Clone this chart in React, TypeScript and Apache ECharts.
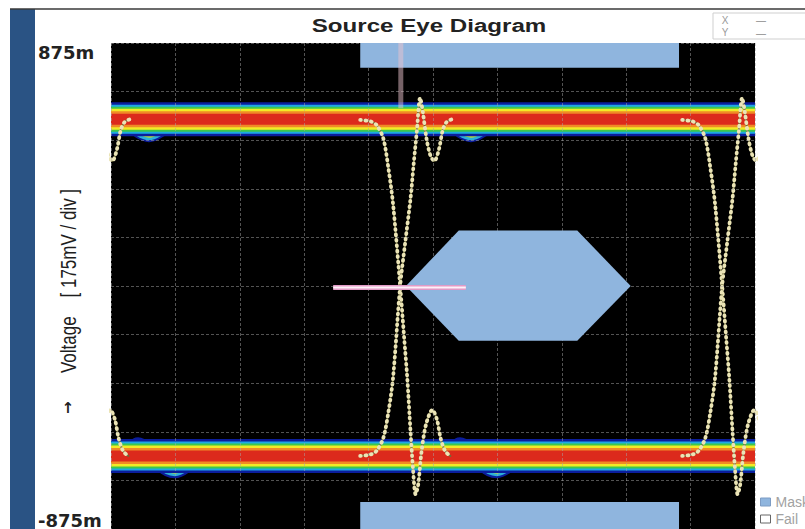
import React, { useEffect, useRef } from "react";
import * as echarts from "echarts";

// ---- axis values (mV, divisions) ----
const yMin = -875;
const yMax = 875;
const yStep = 175;
const xMin = 0;
const xMax = 10;
const yTickText: Record<string, string> = { "875": "875m", "-875": "-875m" };

// crossing points of the eye (in divisions)
const crossings = [-0.51, 4.49, 9.49];

// steady rails (div, mV)
const upperRail = [[0, 600], [10, 600]];
const lowerRail = [[0, -612], [10, -612]];

// transition traces relative to a crossing (d div, mV)
const fallTrace = [
  [-0.62, 598], [-0.45, 592], [-0.36, 578], [-0.26, 530], [-0.18, 420], [-0.11, 295],
  [0, 0], [0.06, -180], [0.11, -330], [0.16, -520], [0.2, -660], [0.24, -750],
  [0.28, -715], [0.33, -600], [0.4, -500], [0.5, -446], [0.57, -480], [0.63, -550],
  [0.7, -595], [0.78, -612],
];
const riseTrace = [
  [-0.62, -612], [-0.45, -606], [-0.36, -592], [-0.26, -546], [-0.18, -450], [-0.11, -330],
  [0, 0], [0.08, 160], [0.16, 313], [0.21, 440], [0.26, 560], [0.31, 678],
  [0.35, 630], [0.41, 530], [0.47, 470], [0.53, 450], [0.6, 490], [0.66, 560],
  [0.72, 590], [0.8, 600],
];
// ringing that widens the rails after a transition
const upperTail = [[0.7, 575], [0.8, 590], [0.95, 558], [1.1, 545], [1.3, 565], [1.5, 590], [1.8, 600]];
const lowerTail = [[0.7, -595], [0.8, -610], [0.93, -572], [1.1, -600], [1.3, -645], [1.5, -665], [1.75, -635], [2.0, -612]];

// mask regions (div, mV)
const maskTop = [[3.87, 786], [8.82, 786], [8.82, 875], [3.87, 875]];
const maskCenter = [[4.58, 0], [5.4, 200], [7.24, 200], [8.07, 0], [7.24, -197], [5.4, -197]];
const maskBottom = [[3.87, -778], [8.82, -778], [8.82, -875], [3.87, -875]];
const maskShapes = [maskTop, maskCenter, maskBottom];

// markers
const markerH = [[3.45, -5], [5.51, -5]];
const markerV = [[4.5, 875], [4.5, 640]];

// ---- styles ----
const bandColors = ["#0b1d9c", "#1ea8e4", "#3cc84c", "#f2ea26", "#f08a26", "#dc2a1c"];
const bandWidths = [34, 29, 25, 21, 16, 11];
const tailColors = ["#0b1d9c", "#2bb0d8", "#b8d840"];
const tailWidths = [15, 11, 6];
const maskColor = "#8fb5de";

type Pt = number[];
const shift = (tpl: Pt[], c: number) => tpl.map(([dx, v]) => [c + dx, v]);
const visible = (pts: Pt[]) => pts.some(([x]) => x >= xMin && x <= xMax);

const lineSeries = (data: Pt[], color: string, width: number, extra: any = {}) => ({
  type: "line",
  data,
  symbol: "none",
  silent: true,
  z: 2,
  smooth: extra.smooth ?? false,
  lineStyle: { color, width, cap: "round", join: "round", ...(extra.lineStyle || {}) },
});

function buildSeries() {
  const s: any[] = [];
  // tails under the bands
  crossings.forEach((c) => {
    [upperTail, lowerTail].forEach((tpl) => {
      const pts = shift(tpl, c);
      if (!visible(pts)) return;
      tailColors.forEach((col, i) => s.push(lineSeries(pts, col, tailWidths[i], { smooth: 0.4 })));
    });
  });
  // dense bands
  bandColors.forEach((col, i) => {
    s.push(lineSeries(upperRail, col, bandWidths[i], { lineStyle: { cap: "butt" } }));
    s.push(lineSeries(lowerRail, col, bandWidths[i], { lineStyle: { cap: "butt" } }));
  });
  // transition traces (beaded)
  crossings.forEach((c) => {
    [fallTrace, riseTrace].forEach((tpl) => {
      const pts = shift(tpl, c);
      if (!visible(pts)) return;
      s.push(lineSeries(pts, "#6e6c3a", 2, { smooth: 0.3 }));
      s.push(
        lineSeries(pts, "#ebe4b6", 3.8, {
          smooth: 0.3,
          lineStyle: { type: [0.8, 4.6], cap: "round" },
        })
      );
    });
  });
  // mask
  s.push({
    type: "custom",
    name: "Mask",
    z: 4,
    silent: true,
    itemStyle: { color: maskColor },
    data: maskShapes.map((_, i) => [i]),
    renderItem: (params: any, api: any) => {
      const pts = maskShapes[params.dataIndex].map((p) => api.coord(p));
      return { type: "polygon", shape: { points: pts }, style: { fill: maskColor } };
    },
  });
  s.push({ type: "line", name: "Fail", data: [], itemStyle: { color: "#fff" } });
  // markers
  s.push({ ...lineSeries(markerV, "rgba(235,195,205,0.5)", 5, { lineStyle: { cap: "butt" } }), z: 5 });
  s.push({ ...lineSeries(markerH, "#e19ac6", 5, { lineStyle: { cap: "butt" } }), z: 5 });
  s.push({ ...lineSeries(markerH, "#fff0f8", 2, { lineStyle: { cap: "butt" } }), z: 5 });
  return s;
}

const gridLine = { show: true, lineStyle: { color: "rgba(165,165,165,0.5)", width: 1, type: [3, 2] } };
const legendText = { color: "#a2a2a2", fontSize: 14, fontFamily: "Liberation Sans" };

const option: any = {
  animation: false,
  backgroundColor: "#ffffff",
  grid: { left: 111, top: 43, width: 644, height: 489, show: true, backgroundColor: "#000", borderWidth: 0 },
  xAxis: {
    type: "value",
    min: xMin,
    max: xMax,
    interval: 1,
    z: 3,
    axisLine: { show: false },
    axisTick: { show: false },
    axisLabel: { show: false },
    splitLine: gridLine,
  },
  yAxis: {
    type: "value",
    min: yMin,
    max: yMax,
    interval: yStep,
    z: 3,
    axisLine: { show: false },
    axisTick: { show: false },
    splitLine: gridLine,
    axisLabel: {
      show: true,
      showMinLabel: true,
      showMaxLabel: true,
      formatter: (v: number) => yTickText[String(v)] ?? "",
      align: "left",
      margin: 73,
      color: "#222",
      fontFamily: "DejaVu Sans",
      fontWeight: "bold",
      fontSize: 18,
      verticalAlignMaxLabel: "top",
      verticalAlignMinLabel: "bottom",
    },
  },
  legend: [
    {
      orient: "vertical",
      left: 760,
      top: 495,
      padding: 0,
      itemWidth: 10,
      itemHeight: 8,
      itemGap: 5,
      selectedMode: false,
      textStyle: legendText,
      data: [{ name: "Mask", icon: "rect", itemStyle: { color: maskColor, borderColor: "#7d9cc4", borderWidth: 1 } }],
    },
    {
      orient: "vertical",
      left: 760,
      top: 512,
      padding: 0,
      itemWidth: 10,
      itemHeight: 8,
      itemGap: 5,
      selectedMode: false,
      textStyle: legendText,
      data: [{ name: "Fail", icon: "rect", itemStyle: { color: "#ffffff", borderColor: "#666", borderWidth: 1 } }],
    },
  ],
  graphic: [
    { type: "rect", z: 10, shape: { x: 10, y: 9, width: 25, height: 520 }, style: { fill: "#2a5384" } },
    { type: "line", z: 10, shape: { x1: 10, y1: 9, x2: 805, y2: 9 }, style: { stroke: "#3a3a3a", lineWidth: 1.5 } },
    {
      type: "text",
      z: 10,
      x: 429,
      y: 25,
      scaleX: 1.27,
      style: {
        text: "Source Eye Diagram",
        fontFamily: "Liberation Sans",
        fontWeight: "bold",
        fontSize: 19,
        fill: "#222",
        align: "center",
        verticalAlign: "middle",
      },
    },
    {
      type: "text",
      z: 10,
      x: 68,
      y: 281,
      rotation: Math.PI / 2,
      scaleY: 1.3,
      style: {
        text: "Voltage    [ 175mV / div ]",
        fontFamily: "Liberation Sans",
        fontSize: 17,
        fill: "#1e1e1e",
        align: "center",
        verticalAlign: "middle",
      },
    },
    {
      type: "text",
      z: 10,
      x: 68,
      y: 408,
      style: { text: "↑", fontFamily: "DejaVu Sans", fontWeight: "bold", fontSize: 15, fill: "#222", align: "center", verticalAlign: "middle" },
    },
    { type: "rect", z: 10, shape: { x: 713, y: 13, width: 100, height: 26 }, style: { fill: "#fff", stroke: "#cfcfcf", lineWidth: 1 } },
    { type: "text", z: 11, x: 725, y: 20, style: { text: "X", fontSize: 10, fontFamily: "Liberation Sans", fill: "#9a9a9a", align: "center", verticalAlign: "middle" } },
    { type: "text", z: 11, x: 725, y: 32, style: { text: "Y", fontSize: 10, fontFamily: "Liberation Sans", fill: "#9a9a9a", align: "center", verticalAlign: "middle" } },
    { type: "text", z: 11, x: 761, y: 20, style: { text: "—", fontSize: 10, fontFamily: "Liberation Sans", fill: "#8a8a8a", align: "center", verticalAlign: "middle" } },
    { type: "text", z: 11, x: 761, y: 33, style: { text: "—", fontSize: 10, fontFamily: "Liberation Sans", fill: "#8a8a8a", align: "center", verticalAlign: "middle" } },
  ],
  series: buildSeries(),
};

export default function App() {
  const ref = useRef<HTMLDivElement>(null);
  useEffect(() => {
    if (!ref.current) return;
    const chart = echarts.init(ref.current, undefined, { renderer: "svg" });
    chart.setOption(option);
    return () => chart.dispose();
  }, []);
  return (
    <div
      ref={ref}
      style={{ position: "absolute", left: 0, top: 0, width: 805, height: 529, background: "#fff" }}
    />
  );
}
